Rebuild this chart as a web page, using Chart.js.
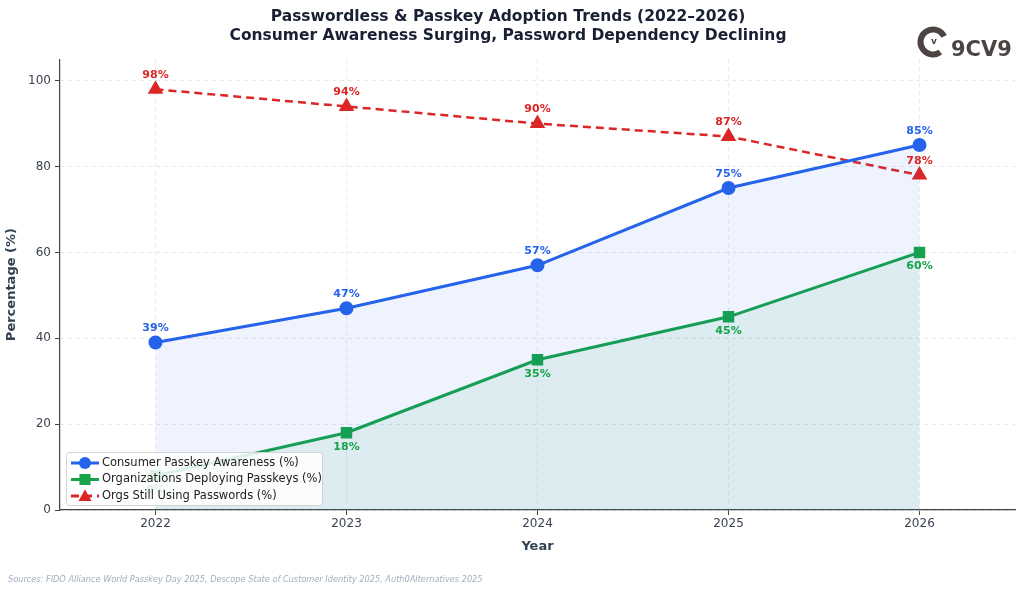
<!DOCTYPE html>
<html>
<head>
<meta charset="utf-8">
<script src="https://cdn.jsdelivr.net/npm/chart.js@4.4.0/dist/chart.umd.min.js"></script>
<style>
  html,body{margin:0;padding:0;background:#fff;}
  #wrap{width:1024px;height:592px;}
</style>
</head>
<body>
<div id="wrap"><canvas id="grafico" width="1024" height="592"></canvas></div>
<script>
// dados
const anos = ["2022","2023","2024","2025","2026"];
const consumidores = [39, 47, 57, 75, 85];
const organizacoes = [8, 18, 35, 45, 60];
const senhas = [98, 94, 90, 87, 78];
const yTicks = [0, 20, 40, 60, 80, 100];

const FONTE = "'DejaVu Sans', sans-serif";
const AZUL = "#2563eb", VERDE = "#16a34a", VERMELHO = "#dc2626";

// rotulos de valor em cada ponto
const rotulosPlugin = {
  id: "rotulos",
  afterDatasetsDraw(chart){
    const ctx = chart.ctx;
    ctx.save();
    ctx.font = "bold 11px " + FONTE;
    ctx.textAlign = "center";
    ctx.textBaseline = "middle";
    chart.data.datasets.forEach((ds, i) => {
      const meta = chart.getDatasetMeta(i);
      meta.data.forEach((pt, j) => {
        const dy = ds.rotuloAbaixo ? 14 : -14;
        ctx.fillStyle = ds.borderColor;
        ctx.fillText(ds.data[j] + "%", pt.x, pt.y + dy);
      });
    });
    ctx.restore();
  }
};

// legenda dentro do grafico, fontes e logo
const extrasPlugin = {
  id: "extras",
  afterDraw(chart){
    const ctx = chart.ctx;
    const area = chart.chartArea;
    ctx.save();
    // legenda
    const lx = area.left + 6, ly = area.bottom - 58, lw = 256, lh = 53;
    ctx.fillStyle = "rgba(255,255,255,0.85)";
    ctx.strokeStyle = "#d4d4d4";
    ctx.lineWidth = 1;
    ctx.beginPath();
    ctx.roundRect(lx + 0.5, ly + 0.5, lw, lh, 3);
    ctx.fill();
    ctx.stroke();
    ctx.font = "11.5px " + FONTE;
    ctx.textBaseline = "middle";
    chart.data.datasets.forEach((ds, i) => {
      const y = ly + 11 + i * 16.5;
      ctx.strokeStyle = ds.borderColor;
      ctx.lineWidth = 3;
      ctx.setLineDash(ds.borderDash || []);
      ctx.beginPath();
      ctx.moveTo(lx + 5, y);
      ctx.lineTo(lx + 33, y);
      ctx.stroke();
      ctx.setLineDash([]);
      ctx.fillStyle = ds.borderColor;
      const cx = lx + 19;
      ctx.beginPath();
      if(ds.pointStyle === "rect"){
        ctx.rect(cx - 5.5, y - 5.5, 11, 11);
      } else if(ds.pointStyle === "triangle"){
        ctx.moveTo(cx, y - 6.5);
        ctx.lineTo(cx + 6.5, y + 5);
        ctx.lineTo(cx - 6.5, y + 5);
        ctx.closePath();
      } else {
        ctx.arc(cx, y, 6, 0, Math.PI * 2);
      }
      ctx.fill();
      ctx.fillStyle = "#222";
      ctx.textAlign = "left";
      ctx.fillText(ds.label, lx + 36, y);
    });
    // fontes
    ctx.font = "italic 8.2px " + FONTE;
    ctx.fillStyle = "#a3adc0";
    ctx.textAlign = "left";
    ctx.fillText("Sources: FIDO Alliance World Passkey Day 2025, Descope State of Customer Identity 2025, Auth0Alternatives 2025", 8, 580);
    // logo
    ctx.strokeStyle = "#4b4442";
    ctx.fillStyle = "#4b4442";
    ctx.lineWidth = 6;
    ctx.beginPath();
    ctx.arc(933, 42, 12.5, Math.PI * 0.3, Math.PI * 1.85);
    ctx.stroke();
    ctx.font = "bold 9px " + FONTE;
    ctx.textAlign = "center";
    ctx.fillText("v", 934, 42);
    ctx.font = "bold 21px " + FONTE;
    ctx.textAlign = "left";
    ctx.fillText("9CV9", 951, 51);
    ctx.restore();
  }
};

new Chart(document.getElementById("grafico"), {
  type: "line",
  data: {
    labels: anos,
    datasets: [
      {
        label: "Consumer Passkey Awareness (%)",
        data: consumidores,
        borderColor: AZUL,
        backgroundColor: "rgba(37,99,235,0.08)",
        pointBackgroundColor: AZUL,
        pointBorderColor: AZUL,
        pointStyle: "circle",
        pointRadius: 5.5,
        borderWidth: 3,
        fill: "origin",
        tension: 0
      },
      {
        label: "Organizations Deploying Passkeys (%)",
        data: organizacoes,
        borderColor: VERDE,
        backgroundColor: "rgba(22,163,74,0.08)",
        pointBackgroundColor: VERDE,
        pointBorderColor: VERDE,
        pointStyle: "rect",
        pointRadius: 6,
        borderWidth: 3,
        fill: "origin",
        rotuloAbaixo: true,
        tension: 0
      },
      {
        label: "Orgs Still Using Passwords (%)",
        data: senhas,
        borderColor: VERMELHO,
        backgroundColor: VERMELHO,
        pointBackgroundColor: VERMELHO,
        pointBorderColor: VERMELHO,
        pointStyle: "triangle",
        pointRadius: 6.5,
        borderWidth: 2.5,
        borderDash: [8, 5],
        fill: false,
        tension: 0
      }
    ]
  },
  options: {
    responsive: false,
    animation: false,
    layout: { padding: { left: 0, right: 8, top: 0, bottom: 34 } },
    plugins: {
      legend: { display: false },
      tooltip: { enabled: false },
      title: {
        display: true,
        text: ["Passwordless & Passkey Adoption Trends (2022–2026)", "Consumer Awareness Surging, Password Dependency Declining"],
        color: "#1a2033",
        font: { family: FONTE, size: 15.5, weight: "bold", lineHeight: 1.2 },
        padding: { top: 8, bottom: 14 }
      }
    },
    scales: {
      x: {
        type: "category",
        offset: true,
        grid: { color: "#e6e8ec", tickColor: "#444", tickLength: 5, offset: false },
        border: { color: "#444", width: 1.2, dash: [4, 4] },
        ticks: { color: "#3b4252", font: { family: FONTE, size: 12 }, padding: 2 },
        title: { display: true, text: "Year", color: "#334155", font: { family: FONTE, size: 13, weight: "bold" }, padding: { top: 10 } },
        afterFit(s){ s.height = 48; }
      },
      y: {
        min: 0,
        max: 105,
        grid: { color: "#e6e8ec", tickColor: "#444", tickLength: 5 },
        border: { color: "#444", width: 1.2, dash: [4, 4] },
        ticks: { color: "#3b4252", font: { family: FONTE, size: 12 }, stepSize: 20, padding: 4 },
        afterBuildTicks(s){ s.ticks = yTicks.map(v => ({ value: v })); },
        title: { display: true, text: "Percentage (%)", color: "#334155", font: { family: FONTE, size: 13, weight: "bold" }, padding: { bottom: 6 } },
        afterFit(s){ s.width = 60; }
      }
    }
  },
  plugins: [rotulosPlugin, extrasPlugin]
});
</script>
</body>
</html>
